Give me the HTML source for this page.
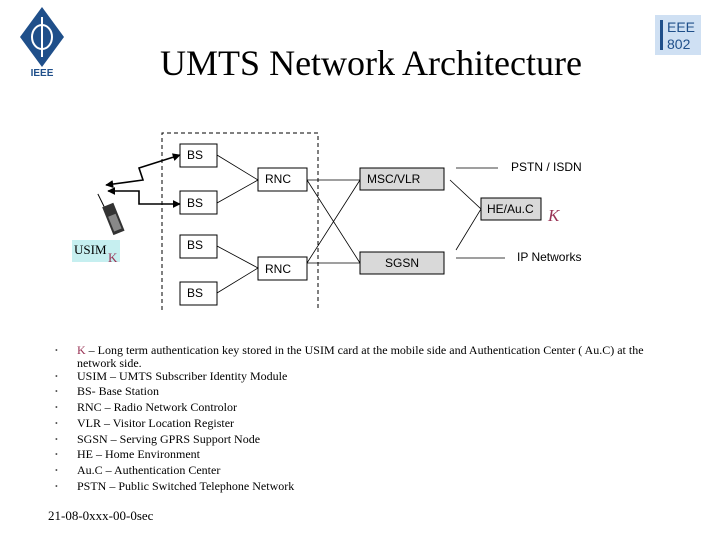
<!DOCTYPE html>
<html><head><style>
body{margin:0;width:720px;height:540px;background:#fff;position:relative;overflow:hidden;font-family:"Liberation Serif",serif}
.t{position:absolute;white-space:nowrap}
.li{position:absolute;left:56px;font-size:12px;line-height:13px}
.li span{position:absolute;left:-1px;font-size:8px;color:#555}
.li div{position:absolute;left:21px;white-space:nowrap}
</style></head><body>
<svg width="720" height="540" style="position:absolute;left:0;top:0">
<defs><marker id="a" viewBox="0 0 10 10" refX="9" refY="5" markerWidth="5" markerHeight="5" orient="auto-start-reverse"><path d="M0,0L10,5L0,10z" fill="#000"/></marker></defs>
<g transform="translate(42,37)">
<path d="M0,-30L22,0L0,30L-22,0Z" fill="#1f4f8a"/>
<ellipse cx="0" cy="0" rx="10" ry="12" fill="none" stroke="#fff" stroke-width="2"/>
<line x1="0" y1="-20" x2="0" y2="20" stroke="#fff" stroke-width="2"/>
</g>
<text x="42" y="76" font-family="Liberation Sans" font-weight="bold" font-size="10" fill="#1f4f8a" text-anchor="middle">IEEE</text>
<rect x="655" y="15" width="46" height="40" fill="#cfe0f3"/>
<rect x="660" y="20" width="3" height="30" fill="#1f4f8a"/>
<text x="667" y="32" font-family="Liberation Sans" font-size="14" fill="#1f4f8a">EEE</text>
<text x="667" y="49" font-family="Liberation Sans" font-size="14" fill="#1f4f8a">802</text>
<path d="M162,310V133H318V310" fill="none" stroke="#000" stroke-dasharray="4,3"/>
<g fill="#fff" stroke="#000">
<rect x="180" y="144" width="37" height="23"/><rect x="180" y="191" width="37" height="23"/>
<rect x="180" y="235" width="37" height="23"/><rect x="180" y="282" width="37" height="23"/>
<rect x="258" y="168" width="49" height="23"/><rect x="258" y="257" width="49" height="23"/>
</g>
<g fill="#d9d9d9" stroke="#000">
<rect x="360" y="168" width="84" height="22"/><rect x="360" y="252" width="84" height="22"/>
<rect x="481" y="198" width="60" height="22"/>
</g>
<g stroke="#000" fill="none" stroke-width="0.8">
<path d="M217,155L258,180L217,203M217,246L258,268L217,293"/>
<path d="M307,180H360M307,263H360M307,180L360,263M307,263L360,180"/>
<path d="M450,180L481,209L456,250M456,168H498M456,258H505"/>
</g>
<g stroke="#000" fill="none" stroke-width="1.6" marker-start="url(#a)" marker-end="url(#a)">
<path d="M106,185L143,180L139,168L180,155"/>
<path d="M108,191H139V204H180"/>
</g>
<g transform="translate(113,218) rotate(-22)">
<rect x="-6" y="-14" width="12" height="30" fill="#333"/>
<rect x="-4" y="-3" width="8" height="16" fill="#888"/>
<line x1="-4" y1="-14" x2="-5" y2="-28" stroke="#000"/>
</g>
<rect x="72" y="240" width="48" height="22" fill="#c6eff0"/>
</svg>
<div class="t" style="left:0;width:742px;text-align:center;top:42px;font-size:36px">UMTS Network Architecture</div>
<div class="t" style="left:187px;top:148px;font:12px 'Liberation Sans',sans-serif">BS</div>
<div class="t" style="left:187px;top:196px;font:12px 'Liberation Sans',sans-serif">BS</div>
<div class="t" style="left:187px;top:238px;font:12px 'Liberation Sans',sans-serif">BS</div>
<div class="t" style="left:187px;top:286px;font:12px 'Liberation Sans',sans-serif">BS</div>
<div class="t" style="left:265px;top:172px;font:12px 'Liberation Sans',sans-serif">RNC</div>
<div class="t" style="left:265px;top:262px;font:12px 'Liberation Sans',sans-serif">RNC</div>
<div class="t" style="left:367px;top:172px;font:12px 'Liberation Sans',sans-serif">MSC/VLR</div>
<div class="t" style="left:385px;top:256px;font:12px 'Liberation Sans',sans-serif">SGSN</div>
<div class="t" style="left:487px;top:202px;font:12px 'Liberation Sans',sans-serif">HE/Au.C</div>
<div class="t" style="left:511px;top:160px;font:12px 'Liberation Sans',sans-serif">PSTN / ISDN</div>
<div class="t" style="left:517px;top:250px;font:12px 'Liberation Sans',sans-serif">IP Networks</div>
<div class="t" style="left:548px;top:206px;font-size:17px;font-style:italic;color:#993355">K</div>
<div class="t" style="left:74px;top:242px;font-size:13px">USIM</div>
<div class="t" style="left:108px;top:250px;font-size:13px;color:#993355">K</div>
<div class="li" style="top:344px"><span>•</span><div><span style="position:static;font-size:12px;color:#993355">K</span> – Long term authentication key stored in the USIM card at the mobile side and Authentication Center ( Au.C) at the<br>network side.</div></div>
<div class="li" style="top:370px"><span>•</span><div>USIM – UMTS Subscriber Identity Module</div></div>
<div class="li" style="top:385px"><span>•</span><div>BS- Base Station</div></div>
<div class="li" style="top:401px"><span>•</span><div>RNC – Radio Network Controlor</div></div>
<div class="li" style="top:417px"><span>•</span><div>VLR – Visitor Location Register</div></div>
<div class="li" style="top:433px"><span>•</span><div>SGSN – Serving GPRS Support Node</div></div>
<div class="li" style="top:448px"><span>•</span><div>HE – Home Environment</div></div>
<div class="li" style="top:464px"><span>•</span><div>Au.C – Authentication Center</div></div>
<div class="li" style="top:480px"><span>•</span><div>PSTN – Public Switched Telephone Network</div></div>
<div class="t" style="left:48px;top:508px;font-size:13px">21-08-0xxx-00-0sec</div>
</body></html>
